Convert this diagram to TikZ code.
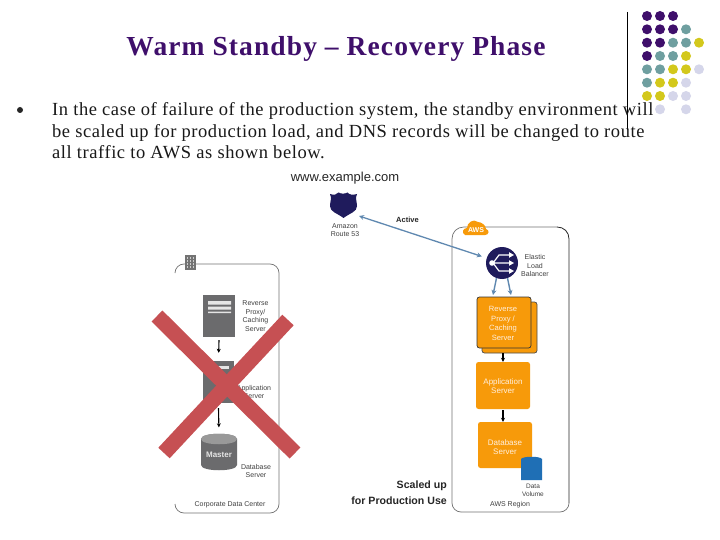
\documentclass[tikz,border=0pt]{standalone}
\usepackage{fontspec}
\setmainfont{Liberation Serif}
\newfontfamily\lsans{Liberation Sans}
\usetikzlibrary{arrows.meta}
\definecolor{dpurple}{HTML}{3F0F6B}
\definecolor{dteal}{HTML}{6F9FA0}
\definecolor{dyellow}{HTML}{D3C81C}
\definecolor{dlilac}{HTML}{D5D6EA}
\definecolor{awsorange}{HTML}{F79A0A}
\definecolor{navy}{HTML}{1F1B5C}
\definecolor{xred}{HTML}{C65053}
\definecolor{srv}{HTML}{6B6B6D}
\definecolor{blink}{HTML}{5F88B0}
\definecolor{volc}{HTML}{1F6FB5}
\tikzset{
  x=1pt,y=-1pt,
  lab/.style={font=\lsans\fontsize{7}{8.5}\selectfont,text=black!75,align=center,inner sep=0pt},
  wlab/.style={font=\lsans\fontsize{8}{9.6}\selectfont,text=white!88!orange,align=center,inner sep=0pt},
  body/.style={font=\addfontfeature{LetterSpace=3.0}\fontsize{18.5}{21}\selectfont,anchor=base west,inner sep=0pt,text=black!90},
  boldlab/.style={font=\lsans\bfseries\fontsize{10.6}{12}\selectfont,text=black!85,inner sep=0pt},
  srvbox/.style={fill=srv,draw=none,inner sep=0pt},
  obox/.style={fill=awsorange,rounded corners=2.5pt,inner sep=0pt,draw=none},
  flow/.style={-{Stealth[length=4pt,width=4pt]},line width=1.1pt,black},
  blue/.style={{Stealth[length=5pt,width=5pt]}-{Stealth[length=5pt,width=5pt]},line width=1.3pt,blink},
  bluedown/.style={-{Stealth[length=5pt,width=5pt]},line width=1.4pt,blink},
  xbar/.style={line width=15.5pt,xred},
}
\begin{document}
\begin{tikzpicture}
\useasboundingbox (0,0) rectangle (720,540);
\fill[white] (0,0) rectangle (720,540);

% decoration
\draw[line width=0.9pt,black] (627,12) -- (627,130);
\foreach \c/\px/\py in {
 dpurple/647/16,dpurple/660/16,dpurple/673/16,
 dpurple/647/29.3,dpurple/660/29.3,dpurple/673/29.3,dteal/686/29.3,
 dpurple/647/42.7,dpurple/660/42.7,dteal/673/42.7,dteal/686/42.7,dyellow/699/42.7,
 dpurple/647/56,dteal/660/56,dteal/673/56,dyellow/686/56,
 dteal/647/69.3,dteal/660/69.3,dyellow/673/69.3,dyellow/686/69.3,dlilac/699/69.3,
 dteal/647/82.7,dyellow/660/82.7,dyellow/673/82.7,dlilac/686/82.7,
 dyellow/647/96,dyellow/660/96,dlilac/673/96,dlilac/686/96,
 dlilac/660/109.3,dlilac/686/109.3}
 {\fill[\c] (\px,\py) circle (5);}

% title and text
\node[font=\addfontfeature{LetterSpace=4}\bfseries\fontsize{27.5}{30}\selectfont,text=dpurple,inner sep=0pt] (title) at (336,49) {Warm Standby – Recovery Phase};
\fill[black!85] (20,110) circle (3);
\node[body] (l1) at (52,116) {In the case of failure of the production system, the standby environment will};
\node[body] (l2) at (52,137.5) {be scaled up for production load, and DNS records will be changed to route};
\node[body] (l3) at (52,159) {all traffic to AWS as shown below.};

% left container
\draw[black!55,line width=0.7pt] (175,273) .. controls (175,268) and (179,264) .. (184,264) -- (270,264) .. controls (275,264) and (279,268) .. (279,273) -- (279,504) .. controls (279,509) and (275,513) .. (270,513) -- (184,513) .. controls (179,513) and (175,509) .. (175,504);
\fill[black!55] (185,255) rectangle (196,270);
\foreach \a in {187.5,190.5,193.5}\foreach \b in {258,261,264,267}\fill[white!80!black] (\a-0.8,\b-0.8) rectangle (\a+0.8,\b+0.8);

\node[srvbox,minimum width=32pt,minimum height=42pt] (rp) at (219,316) {};
\fill[white!90!black] (208,301) rectangle (231,304.5) (208,306.5) rectangle (231,309.5) (208,311.5) rectangle (231,313);
\node[lab] (rplab) at (255.5,316) {Reverse\\Proxy/\\Caching\\Server};
\node[srvbox,minimum width=31pt,minimum height=42pt] (app) at (218.5,382) {};
\fill[white!90!black] (208,366) rectangle (229,369);
\node[lab] (applab) at (254,392) {Application\\Server};
\fill[srv] (201,439) -- (201,465) .. controls (201,472) and (237,472) .. (237,465) -- (237,439) .. controls (237,432) and (201,432) .. (201,439) -- cycle;
\fill[black!40] (201,439) .. controls (201,432) and (237,432) .. (237,439) .. controls (237,446) and (201,446) .. (201,439) -- cycle;
\node[inner sep=0pt,minimum width=36pt,minimum height=37pt] (db) at (219,452) {};
\node[inner sep=0pt,font=\lsans\bfseries\fontsize{8}{9}\selectfont,text=white!90!black] (dbt) at (219,455) {Master};
\node[lab] (dblab) at (256,471) {Database\\Server};
\node[lab] (cdc) at (230,505) {Corporate Data Center};
\draw[flow,shorten >=8pt] (rp.south) ++(0,3) -- (app.north);
\draw[flow,shorten >=6pt] (app.south) ++(0,5) -- (db.north);

% red cross
\coordinate (xa) at (157,316); \coordinate (xb) at (295,453);
\coordinate (xc) at (288,320); \coordinate (xd) at (164,453);
\draw[xbar] (xa) -- (xb);
\draw[xbar] (xc) -- (xd);

% url, route 53
\node[inner sep=0pt,font=\lsans\fontsize{13}{15}\selectfont,text=black!85] (url) at (345,178) {www.example.com};
\fill[navy] (330,194) .. controls (334,195.5) and (337,194.5) .. (338.5,192.5) .. controls (341,194) and (345,194) .. (347.5,192.5) .. controls (349,194.5) and (352.5,195.5) .. (357,194)
 .. controls (355,198) and (357,202) .. (357,206) .. controls (357,212) and (350,213) .. (343.5,218) .. controls (337,213) and (330,212) .. (330,206) .. controls (330,202) and (332,198) .. (330,194) -- cycle;
\coordinate (r53) at (359,216);
\node[lab] (r53lab) at (345,230) {Amazon\\Route 53};
\node[boldlab,font=\lsans\bfseries\fontsize{7.5}{9}\selectfont] (act) at (407.5,220) {Active};

% right container
\draw[black!55,line width=0.7pt] (461,512) .. controls (456,512) and (452,508) .. (452,503) -- (452,239) .. controls (452,232) and (457,227) .. (464,227) -- (557,227);
\draw[black!85,line width=0.8pt] (557,227) .. controls (564,227) and (569,232) .. (569,239) -- (569,503);
\draw[black!55,line width=0.7pt] (569,503) .. controls (569,508) and (565,512) .. (560,512) -- (461,512);
% AWS cloud
\fill[awsorange] (465,235) .. controls (461,233) and (463,228) .. (467,228) .. controls (467,223) and (473,218) .. (478,222) .. controls (481,222) and (486,225) .. (486,229) .. controls (490,230) and (489,235) .. (485,235) -- cycle;
\node[inner sep=0pt,font=\lsans\bfseries\fontsize{7}{8}\selectfont,text=white] (awst) at (476,230) {AWS};
% ELB
\node[circle,fill=navy,minimum size=32pt,inner sep=0pt] (elb) at (502,263) {};
\draw[white,line width=1.2pt] (492,263) -- (510,263) (510,255) -- (499,255) -- (493,263) -- (499,271) -- (510,271);
\fill[white] (492,263) circle (2.8);
\foreach \yy in {255,263,271}\fill[white] (514,\yy) -- (509,\yy-2.8) -- (509,\yy+2.8) -- cycle;
\node[lab] (elblab) at (535,265.5) {Elastic\\Load\\Balancer};
\draw[blue,shorten >=5pt] (r53) -- (elb.162);

% orange boxes
\node[obox,draw=black!70,line width=0.7pt,minimum width=55pt,minimum height=51pt] (rpback) at (509.5,327.5) {};
\node[obox,draw=black!80,line width=0.7pt,minimum width=54pt,minimum height=51pt] (rpo) at (504,322.5) {};
\node[wlab,font=\lsans\fontsize{7.6}{9.6}\selectfont] (rpot) at (503,323.5) {Reverse\\Proxy /\\Caching\\Server};
\draw[bluedown] (elb.250) -- (493,295);
\draw[bluedown] (elb.290) -- (511,295);
\node[obox,minimum width=54pt,minimum height=47pt] (appo) at (503,385.5) {};
\node[wlab] (appot) at (503,386) {Application\\Server};
\node[obox,minimum width=54pt,minimum height=46pt] (dbo) at (505,445) {};
\node[wlab] (dbot) at (505,447) {Database\\Server};
\draw[flow] (rpback.south -| appo.north) -- (appo.north);
\draw[flow] (appo.south) ++(0,1) -- (appo.south |- dbo.north);
% data volume
\fill[volc] (521,459) .. controls (523,456) and (540,456) .. (542,459) -- (542,480) -- (521,480) -- cycle;
\node[lab,font=\lsans\fontsize{6.5}{7.5}\selectfont] (vol) at (533,490.5) {Data\\Volume};
\node[lab] (awsr) at (510,505) {AWS Region};
\node[boldlab,anchor=east] (s1) at (447,486) {Scaled up};
\node[boldlab,anchor=east] (s2) at (447,501) {for Production Use};
\end{tikzpicture}
\end{document}
